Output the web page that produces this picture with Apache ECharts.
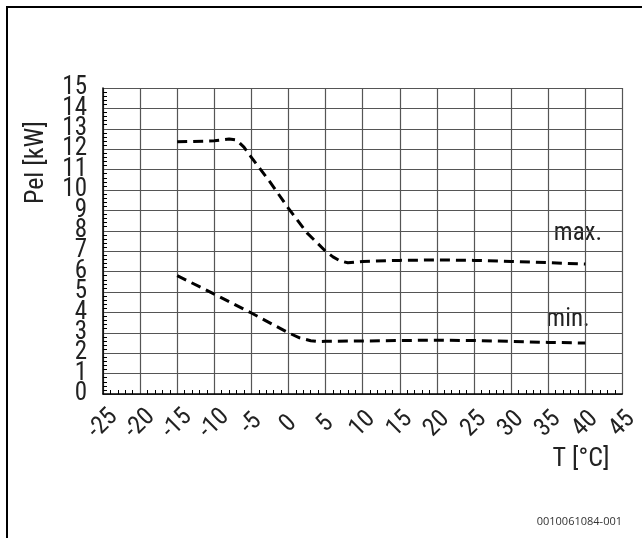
<!DOCTYPE html>
<html>
<head>
<meta charset="utf-8">
<script src="https://cdn.jsdelivr.net/npm/echarts@6/dist/echarts.min.js"></script>
<style>
html,body{margin:0;padding:0;background:#fff;}
#chart{width:642px;height:538px;}
</style>
</head>
<body>
<div id="chart"></div>
<script>
// Data
const maxT   = [-15, -10, -8, -7, -6, -5, -2.5, 0, 2.5, 5, 6, 7, 8, 10, 15, 20, 25, 30, 35, 40];
const maxPel = [12.36, 12.41, 12.5, 12.45, 12.1, 11.6, 10.4, 9.1, 7.9, 7.0, 6.72, 6.52, 6.43, 6.5, 6.55, 6.57, 6.55, 6.5, 6.44, 6.37];
const minT   = [-15, -10, -5, 0, 1.5, 3, 4, 5, 10, 15, 20, 25, 30, 35, 40];
const minPel = [5.8, 4.9, 3.97, 3.0, 2.75, 2.61, 2.57, 2.58, 2.6, 2.62, 2.64, 2.62, 2.58, 2.53, 2.5];
const xTicks = [-25, -20, -15, -10, -5, 0, 5, 10, 15, 20, 25, 30, 35, 40, 45];
const yTicks = [0, 1, 2, 3, 4, 5, 6, 7, 8, 9, 10, 11, 12, 13, 14, 15];

const FONT = "'Roboto Condensed', 'Liberation Sans', sans-serif";
const yMin = yTicks[0], yMax = yTicks[yTicks.length - 1];

const chart = echarts.init(document.getElementById('chart'), null, {renderer: 'canvas'});

function pairs(xs, ys) { return xs.map((x, i) => [x, ys[i]]); }

const yLabelBase = {margin: 16, fontFamily: FONT, fontSize: 25, color: '#222', lineHeight: 16, hideOverlap: false};

const option = {
  animation: false,
  backgroundColor: '#fff',
  grid: {left: 103, right: 17, top: 88, bottom: 144, containLabel: false},
  xAxis: {
    type: 'value',
    min: xTicks[0], max: xTicks[xTicks.length - 1], interval: 5,
    axisLine: {show: true, onZero: false, lineStyle: {color: '#000', width: 1.5}},
    axisTick: {show: false, inside: true},
    minorTick: {show: true, splitNumber: 5, length: 4, lineStyle: {color: '#000', width: 1}},
    splitLine: {show: true, lineStyle: {color: '#555', width: 1.2}},
    axisLabel: {
      rotate: 45, align: 'center', verticalAlign: 'middle', margin: 30,
      showMinLabel: true, showMaxLabel: true, hideOverlap: false,
      fontFamily: FONT, fontSize: 25, color: '#222', lineHeight: 16,
      formatter: v => String(v)
    }
  },
  yAxis: [
    {
      type: 'value', position: 'left',
      min: yMin, max: yMax, interval: 1,
      axisLine: {show: true, onZero: false, lineStyle: {color: '#000', width: 1.5}},
      axisTick: {show: false, inside: true},
      minorTick: {show: true, splitNumber: 5, length: 4, lineStyle: {color: '#000', width: 1}},
      splitLine: {show: true, lineStyle: {color: '#555', width: 1.2}},
      axisLabel: Object.assign({showMinLabel: false, showMaxLabel: false}, yLabelBase)
    },
    {
      // carries only the end labels (0 and 15) so the neighbours are not hidden
      type: 'value', position: 'left',
      min: yMin, max: yMax, interval: 1,
      axisLine: {show: false, onZero: false},
      axisTick: {show: false},
      splitLine: {show: false},
      axisLabel: Object.assign({showMinLabel: true, showMaxLabel: true,
        formatter: v => (v === yMin || v === yMax) ? String(v) : ''}, yLabelBase)
    }
  ],
  series: [
    {
      name: 'max.', type: 'line', data: pairs(maxT, maxPel),
      showSymbol: false, smooth: false,
      lineStyle: {color: '#000', width: 3, type: [10, 6], join: 'round'}
    },
    {
      name: 'min.', type: 'line', data: pairs(minT, minPel),
      showSymbol: false, smooth: false,
      lineStyle: {color: '#000', width: 3, type: [10, 6], join: 'round'}
    }
  ],
  graphic: [
    {type: 'rect', shape: {x: 7, y: 7, width: 700, height: 600}, style: {fill: 'none', stroke: '#000', lineWidth: 2}, silent: true},
    {type: 'text', left: 23, top: 121, rotation: Math.PI / 2, style: {text: 'Pel [kW]', font: "26px " + FONT, fill: '#222'}},
    {type: 'text', x: 581, y: 459, style: {text: 'T [°C]', font: "26px " + FONT, fill: '#222', align: 'center', verticalAlign: 'middle'}},
    {type: 'text', x: 578, y: 234, style: {text: 'max.', font: "25px " + FONT, fill: '#222', align: 'center', verticalAlign: 'middle'}},
    {type: 'text', x: 568, y: 320, style: {text: 'min.', font: "25px " + FONT, fill: '#222', align: 'center', verticalAlign: 'middle'}},
    {type: 'text', x: 622, y: 522, style: {text: '0010061084-001', font: "11px 'Open Sans', 'Liberation Sans', sans-serif", fill: '#333', align: 'right', verticalAlign: 'middle'}}
  ]
};
chart.setOption(option);
</script>
</body>
</html>
